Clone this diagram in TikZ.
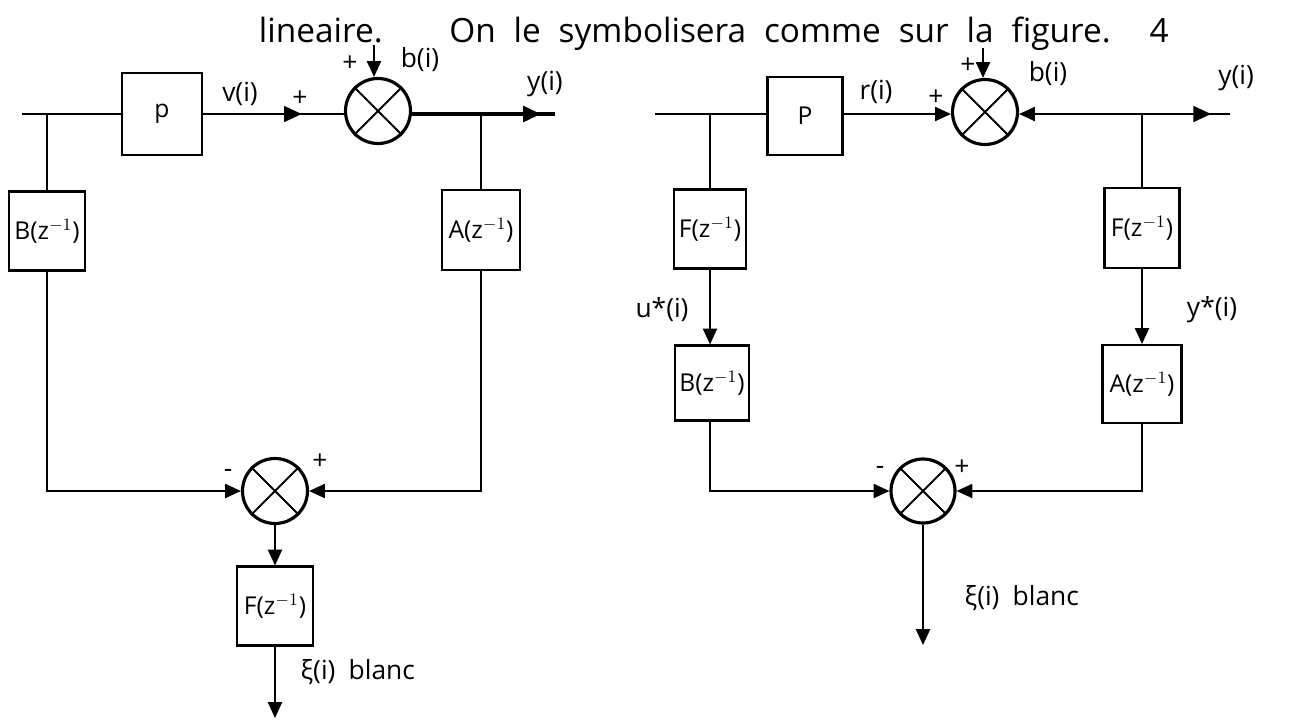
\documentclass[tikz,border=0pt]{standalone}
\usepackage{fontspec}
\setmainfont{Open Sans}
\usetikzlibrary{arrows.meta,decorations.markings,calc}
\begin{document}
\begin{tikzpicture}[x=0.02cm,y=-0.02cm,
  line width=1.1pt,
  font=\fontsize{15}{17}\selectfont,
  blk/.style={draw,line width=1.2pt,inner sep=0pt,minimum width=1.52cm,minimum height=1.58cm,font=\fontsize{14}{16}\selectfont},
  sumnode/.style={circle,draw,line width=1.8pt,minimum size=1.3cm,inner sep=0pt},
  tip/.style={-{Triangle[length=9pt,width=8pt]}},
  midtip/.style={postaction={decorate},decoration={markings,mark=at position #1 with {\arrow{Triangle[length=10pt,width=9pt]}}}},
  lbl/.style={inner sep=1pt}]
\useasboundingbox (0,0) rectangle (1290,724);

% title
\node[anchor=base west,inner sep=0pt,font=\fontsize{19}{22}\selectfont] (title) at (258,42)
  {\makebox[18.2cm][s]{lineaire.\qquad On le symbolisera comme sur la figure. 4}};

% ---------------- left diagram ----------------
\node[blk,minimum width=1.6cm,minimum height=1.64cm] (P1) at (162,114) {p};
\node[sumnode] (S1) at (378,111) {};
\node[blk] (B1) at (47,231) {B(z$^{-1}$)};
\node[blk,minimum width=1.55cm,minimum height=1.6cm] (A1) at (481,230) {A(z$^{-1}$)};
\node[sumnode] (S2) at (275,491) {};
\node[blk] (F1) at (275,606) {F(z$^{-1}$)};
\draw[line width=1.1pt] (S1.45) -- (S1.225) (S1.135) -- (S1.315);
\draw[line width=1.1pt] (S2.45) -- (S2.225) (S2.135) -- (S2.315);

\coordinate (inL) at (22,114);
\coordinate (jL) at (B1.north |- inL);
\coordinate (bL) at ($(S1.north)+(-4,-32)$);
\coordinate (yL) at (555,114);
\coordinate (jA) at (A1.north |- yL);
\coordinate (outL) at (275,718);

\draw (inL) -- (P1.west);
\draw (jL) -- (B1.north);
\draw[midtip=0.7] (P1.east) -- (S1.west |- P1.east);
\draw[tip] (bL) -- (bL |- S1.north);
\draw[line width=1.8pt,midtip=0.9] (S1.east |- yL) -- (yL);
\draw (jA) -- (A1.north);
\draw[tip] (B1.south) |- (S2.west);
\draw[tip] (A1.south) |- (S2.east);
\draw[tip] (S2.south) -- (F1.north);
\draw[tip] (F1.south) -- (outL);

\node[lbl] (lv) at (240,94) {v(i)};
\node[lbl] (lp1) at (300,99) {+};
\node[lbl] (lp2) at (350,64) {+};
\node[lbl] (lb) at (420,60) {b(i)};
\node[lbl] (ly) at (545,84) {y(i)};
\node[lbl] (lm3) at (228,473) {-};
\node[lbl] (lp3) at (320,462) {+};
\node[lbl,anchor=west] (le) at (298,672) {ξ(i)\enspace blanc};

% ---------------- right diagram ----------------
\node[blk,minimum width=1.5cm,minimum height=1.56cm] (P2) at (805,116) {P};
\node[sumnode] (S3) at (985,112) {};
\node[blk,minimum width=1.45cm] (F2) at (710,229) {F(z$^{-1}$)};
\node[blk,minimum width=1.48cm,minimum height=1.5cm] (B2) at (712,383) {B(z$^{-1}$)};
\node[blk,minimum width=1.5cm,minimum height=1.6cm] (F3) at (1142,228) {F(z$^{-1}$)};
\node[blk,minimum width=1.58cm,minimum height=1.56cm] (A2) at (1142,384) {A(z$^{-1}$)};
\node[sumnode,minimum size=1.28cm] (S4) at (923,491) {};
\draw[line width=1.1pt] (S3.45) -- (S3.225) (S3.135) -- (S3.315);
\draw[line width=1.1pt] (S4.45) -- (S4.225) (S4.135) -- (S4.315);

\coordinate (inR) at (655,114);
\coordinate (jR) at (F2.north |- inR);
\coordinate (bR) at ($(S3.north)+(-2,-30)$);
\coordinate (yR) at (1230,114);
\coordinate (jR2) at (F3.north |- yR);
\coordinate (outR) at (923,645);

\draw (inR) -- (P2.west |- inR);
\draw (jR) -- (F2.north);
\draw[tip] (P2.east |- inR) -- (S3.west |- inR);
\draw[tip] (bR) -- (bR |- S3.north);
\draw[{Triangle[length=9pt,width=8pt]}-,midtip=0.91] (S3.east |- yR) -- (yR);
\draw (jR2) -- (F3.north);
\draw[tip] (F2.south) -- (F2.south |- B2.north);
\draw[tip] (F3.south) -- (A2.north);
\draw[tip] (B2.south -| F2.south) |- (S4.west);
\draw[tip] (A2.south) |- (S4.east);
\draw[tip] (S4.south) -- (outR);

\node[lbl] (rr) at (876,92) {r(i)};
\node[lbl] (rp1) at (936,98) {+};
\node[lbl] (rp2) at (968,66) {+};
\node[lbl] (rb) at (1048,74) {b(i)};
\node[lbl] (ry) at (1236,78) {y(i)};
\node[lbl] (ru) at (662,310) {u*(i)};
\node[lbl] (rys) at (1212,310) {y*(i)};
\node[lbl] (rm) at (880,470) {-};
\node[lbl] (rp3) at (962,468) {+};
\node[lbl,anchor=west] (re) at (962,598) {ξ(i)\enspace blanc};
\end{tikzpicture}
\end{document}
